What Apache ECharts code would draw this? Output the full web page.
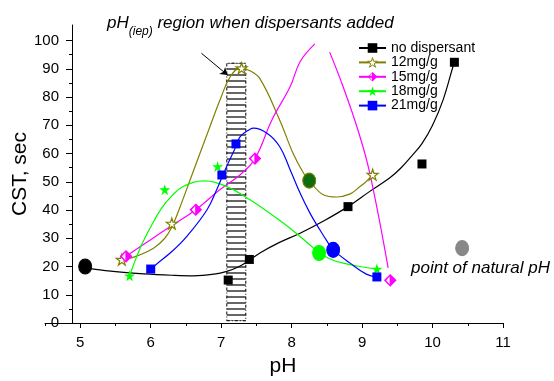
<!DOCTYPE html>
<html>
<head>
<meta charset="utf-8">
<script src="https://cdn.jsdelivr.net/npm/echarts@6/dist/echarts.min.js"></script>
<style>
  html, body { margin: 0; padding: 0; background: #fff; }
  #chart { width: 554px; height: 381px; }
</style>
</head>
<body>
<div id="chart"></div>
<script>
// axis ticks
var phTicks = [5, 6, 7, 8, 9, 10, 11];
var phMinorTicks = [4.5, 5.5, 6.5, 7.5, 8.5, 9.5, 10.5];
var cstTicks = [0, 10, 20, 30, 40, 50, 60, 70, 80, 90, 100];
var cstMinorTicks = [5, 15, 25, 35, 45, 55, 65, 75, 85, 95];

var seriesNames = ['no dispersant', '12mg/g', '15mg/g', '18mg/g', '21mg/g'];

// measured points [pH, CST]
var noDispPoints = [[7.10, 15.2], [7.40, 22.5], [8.80, 41.2], [9.85, 56.3], [10.31, 92.3]];
var mg12Points = [[5.59, 22.4], [6.30, 35.2], [7.29, 90.2], [9.15, 52.5]];
var mg15Points = [[5.65, 23.6], [6.64, 40.1], [7.48, 58.2], [9.40, 15.1]];
var mg18Points = [[5.70, 16.7], [6.20, 47.2], [6.95, 55.4], [9.21, 19.1]];
var mg21Points = [[6.00, 19.1], [7.01, 52.4], [7.21, 63.4], [9.21, 16.3]];

// fitted curves
var noDispCurve = [[5.07, 19.6], [5.19, 19.1], [5.5, 18.2], [5.9, 17.4], [6.3, 16.9], [6.61, 16.7], [6.9, 17.3],
  [7.08, 18.3], [7.25, 19.9], [7.41, 22.4], [7.55, 24.8], [7.8, 28.2], [8.12, 31.8], [8.46, 36.2], [8.8, 41.2],
  [9.11, 46.6], [9.39, 51.3], [9.54, 54.6], [9.7, 59], [9.85, 63.5], [10.0, 70], [10.15, 79], [10.29, 90.8], [10.31, 92.3]];
var mg12Curve = [[5.62, 22.6], [5.76, 23.3], [6.04, 26.5], [6.2, 30], [6.3, 34], [6.4, 40], [6.56, 50.7], [6.84, 69.5],
  [7.0, 80], [7.12, 86.8], [7.27, 90.2], [7.4, 89.4], [7.55, 86.5], [7.83, 71.9], [8.02, 60.1], [8.17, 53], [8.25, 50.4],
  [8.45, 45.4], [8.64, 44.6], [8.83, 45.7], [8.97, 48.3], [9.06, 50.1], [9.15, 52.5]];
var mg15Curve = [[5.65, 23.6], [6.0, 29.5], [6.3, 34.5], [6.64, 40.1], [6.98, 47.2], [7.27, 52.5], [7.48, 58.2], [7.72, 71.9],
  [7.98, 83.7], [8.12, 92.5], [8.33, 98.8], [8.43, '-'], [8.54, 95.9], [8.73, 83.7], [8.94, 68.4], [9.11, 53], [9.37, 19.5]];
var mg18Curve = [[5.70, 16.7], [5.85, 26.5], [6.0, 34], [6.15, 40.5], [6.3, 45], [6.46, 48.3], [6.75, 50.3], [7.08, 48.3],
  [7.41, 43.6], [7.88, 35.4], [8.12, 30.6], [8.31, 26.5], [8.39, 24.8], [8.59, 22.2], [8.73, 21.2], [8.97, 20], [9.21, 19.1]];
var mg21Curve = [[6.0, 19.1], [6.09, 21], [6.3, 25.3], [6.51, 30.6], [6.8, 40.1], [6.95, 48], [7.07, 55], [7.21, 62.5],
  [7.27, 66], [7.41, 68.6], [7.46, 69], [7.65, 67.2], [7.83, 62.5], [7.98, 54.2], [8.12, 46], [8.26, 38.9], [8.4, 33],
  [8.52, 28.3], [8.59, 25.9], [8.83, 21.2], [9.06, 17.3], [9.21, 16.3]];

// natural pH points (no disp, 12, 18, 21, legend sample)
var naturalPh = [[5.07, 20.0], [8.25, 50.4], [8.39, 24.8], [8.59, 25.9], [10.42, 26.5]];

// pH(iep) band and arrow
var iepBand = [[7.08, 0.8], [7.35, 92]];
var arrowLine = [[6.72, 95.5], [7.09, 87.8]];

// x range: the bottom axis starts at 4.5, the y axis crosses it at 4.88
var phAxisStart = 4.5;
var phYCross = 4.883;
var phMax = 11;
var cstMax = 105.5;

var font = 'Liberation Sans';
var colors = ['#000000', '#808000', '#ff00ff', '#00ff00', '#0000ff'];
var naturalColors = ['#000000', '#0e6e0e', '#00ff00', '#0000ff', '#888888'];
var naturalBorders = ['#000000', '#808000', '#00ff00', '#0000ff', '#888888'];

var star = 'path://M50,0L61.2,34.5L97.6,34.5L68.2,55.9L79.4,90.5L50,69.1L20.6,90.5L31.8,55.9L2.4,34.5L38.8,34.5Z';
var halfDiamond = 'path://M0,-10L10,0L0,10L-10,0ZM-1.2,-7.4L-7.4,0L-1.2,7.4Z';

// hatch pattern for the band
var hatch = document.createElement('canvas');
hatch.width = 8;
hatch.height = 6;
var hctx = hatch.getContext('2d');
hctx.strokeStyle = '#333';
hctx.lineWidth = 1.5;
hctx.beginPath();
hctx.moveTo(0, 3);
hctx.lineTo(8, 3);
hctx.stroke();

var chart = echarts.init(document.getElementById('chart'));

function curve(name, data, color, symbol, itemStyle) {
  return {
    name: name,
    type: 'line',
    data: data,
    smooth: 0.4,
    showSymbol: false,
    symbol: symbol,
    symbolSize: 9,
    lineStyle: { color: color, width: 1.2 },
    itemStyle: itemStyle || { color: color },
    emphasis: { disabled: true },
    z: 2
  };
}

function points(data, symbol, size, itemStyle) {
  itemStyle.opacity = 1;
  return {
    type: 'scatter',
    data: data,
    symbol: symbol,
    symbolSize: size,
    itemStyle: itemStyle,
    emphasis: { disabled: true },
    z: 4
  };
}

var noDispLine = curve(seriesNames[0], noDispCurve, colors[0], 'rect');
noDispLine.markArea = {
  silent: true,
  itemStyle: {
    color: { image: hatch, repeat: 'repeat' },
    borderColor: '#000',
    borderWidth: 1,
    borderType: [3, 2, 1, 2]
  },
  data: [[{ coord: iepBand[0] }, { coord: iepBand[1] }]]
};
noDispLine.markLine = {
  silent: true,
  symbol: ['none', 'arrow'],
  symbolSize: 7,
  label: { show: false },
  lineStyle: { color: '#000', width: 1, type: 'solid' },
  data: [[{ coord: arrowLine[0] }, { coord: arrowLine[1] }]]
};

var legendData = seriesNames.map(function (n) { return { name: n }; });
legendData[1].itemStyle = { color: '#fff', borderColor: colors[1], borderWidth: 1 };

var hidden = { show: false };

var option = {
  animation: false,
  textStyle: { fontFamily: font },
  title: {
    left: 102,
    top: 10,
    text: '{i|pH}{s|(iep)}{i| region when dispersants added}',
    textStyle: {
      fontWeight: 'normal',
      rich: {
        i: { fontSize: 17, fontStyle: 'italic', fontWeight: 'normal', fontFamily: font, color: '#000', lineHeight: 20, verticalAlign: 'top' },
        s: { fontSize: 12, fontStyle: 'italic', fontWeight: 'normal', fontFamily: font, color: '#000', lineHeight: 23, verticalAlign: 'bottom' }
      }
    }
  },
  legend: {
    orient: 'vertical',
    left: 358,
    top: 41,
    padding: 0,
    itemWidth: 27,
    itemHeight: 12,
    itemGap: 0.4,
    data: legendData,
    textStyle: { fontSize: 14, color: '#000', fontFamily: font, lineHeight: 14 },
    selectedMode: false
  },
  graphic: [{
    type: 'text',
    left: 411,
    top: 260,
    style: { text: 'point of natural pH', font: 'italic 17px "Liberation Sans"', fill: '#000' }
  }],
  grid: [
    { left: 72, right: 51, top: 25, bottom: 58, outerBoundsMode: 'none' },
    { left: 45, right: 51, top: 25, bottom: 58, outerBoundsMode: 'none' }
  ],
  xAxis: [{
    // plotting axis
    type: 'value', gridIndex: 0, min: phYCross, max: phMax,
    axisLine: hidden, axisTick: hidden, axisLabel: hidden, splitLine: hidden
  }, {
    // visible bottom axis
    type: 'value', gridIndex: 1, min: phAxisStart, max: phMax,
    name: 'pH',
    nameLocation: 'middle',
    nameGap: 33,
    nameTextStyle: { fontSize: 21, color: '#000', padding: [0, 0, 0, 18] },
    axisLine: { onZero: false, lineStyle: { color: '#000', width: 1 } },
    axisTick: { length: 5, customValues: phTicks, lineStyle: { color: '#000' } },
    axisLabel: { customValues: phTicks, fontSize: 15, color: '#000', margin: 12 },
    splitLine: hidden
  }, {
    type: 'value', gridIndex: 1, min: phAxisStart, max: phMax, position: 'bottom',
    axisLine: hidden,
    axisTick: { length: 3, customValues: phMinorTicks, lineStyle: { color: '#000' } },
    axisLabel: hidden,
    splitLine: hidden
  }],
  yAxis: [{
    type: 'value', gridIndex: 0, min: 0, max: cstMax,
    name: 'CST, sec',
    nameLocation: 'middle',
    nameGap: 41,
    nameMoveOverlap: false,
    nameTextStyle: { fontSize: 21, color: '#000' },
    axisLine: { show: true, onZero: false, lineStyle: { color: '#000', width: 1 } },
    axisTick: { length: 6, customValues: cstTicks, lineStyle: { color: '#000' } },
    axisLabel: { customValues: cstTicks, fontSize: 15, color: '#000', margin: 13 },
    splitLine: hidden
  }, {
    type: 'value', gridIndex: 0, min: 0, max: cstMax, position: 'left',
    axisLine: hidden,
    axisTick: { length: 3, customValues: cstMinorTicks, lineStyle: { color: '#000' } },
    axisLabel: hidden,
    splitLine: hidden
  }, {
    type: 'value', gridIndex: 1, min: 0, max: cstMax, show: false
  }],
  series: [
    noDispLine,
    curve(seriesNames[1], mg12Curve, colors[1], star, { color: '#fff', borderColor: colors[1], borderWidth: 1 }),
    curve(seriesNames[2], mg15Curve, colors[2], halfDiamond),
    curve(seriesNames[3], mg18Curve, colors[3], star),
    curve(seriesNames[4], mg21Curve, colors[4], 'rect'),
    points(noDispPoints, 'rect', 9, { color: colors[0] }),
    points(mg12Points, star, 11, { color: '#fff', borderColor: colors[1], borderWidth: 1.2 }),
    points(mg15Points, 'diamond', 11, { color: '#fff', borderColor: colors[2], borderWidth: 1.2 }),
    points(mg15Points, halfDiamond, 11, { color: colors[2] }),
    points(mg18Points, star, 11, { color: colors[3] }),
    points(mg21Points, 'rect', 9, { color: colors[4] }),
    {
      type: 'scatter',
      data: naturalPh.map(function (p, i) {
        return { value: p, itemStyle: { color: naturalColors[i], borderColor: naturalBorders[i], borderWidth: 1, opacity: 1 } };
      }),
      symbol: 'circle',
      symbolSize: [13, 15],
      emphasis: { disabled: true },
      z: 5
    }
  ]
};

chart.setOption(option);
</script>
</body>
</html>
